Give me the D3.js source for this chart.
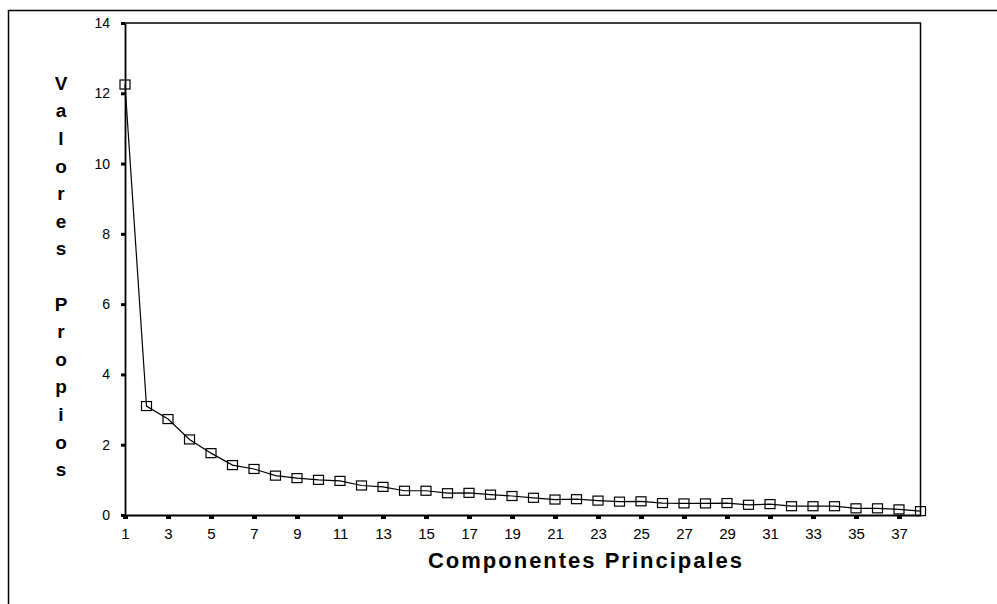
<!DOCTYPE html>
<html>
<head>
<meta charset="utf-8">
<script src="https://cdn.jsdelivr.net/npm/d3@7/dist/d3.min.js"></script>
<style>
  html, body { margin: 0; padding: 0; background: #fff; }
  svg { display: block; }
  text { font-family: "Liberation Sans", Arial, sans-serif; fill: #000; }
</style>
</head>
<body>
<svg id="chart" width="997" height="604"></svg>
<script>
// ---- data ----
const components = d3.range(1, 39); // 1..38
const eigenvalues = [12.25, 3.10, 2.73, 2.15, 1.76, 1.42, 1.31, 1.12, 1.05, 1.00,
                     0.97, 0.84, 0.80, 0.69, 0.69, 0.62, 0.63, 0.58, 0.54, 0.49,
                     0.44, 0.45, 0.41, 0.38, 0.39, 0.34, 0.33, 0.33, 0.34, 0.29,
                     0.31, 0.25, 0.25, 0.25, 0.19, 0.19, 0.16, 0.11];
const xTicks = [1, 3, 5, 7, 9, 11, 13, 15, 17, 19, 21, 23, 25, 27, 29, 31, 33, 35, 37];
const yTicks = [0, 2, 4, 6, 8, 10, 12, 14];
const xTitle = "Componentes Principales";
const yTitle = "Valores Propios";

(function () {
const svg = d3.select("#chart");

// outer frame (runs off the right and bottom edges)
svg.append("rect")
  .attr("x", 8.5).attr("y", 10.5)
  .attr("width", 1100).attr("height", 700)
  .attr("fill", "none").attr("stroke", "#000").attr("stroke-width", 1.5);

const pL = 125, pR = 920.5, pT = 23, pB = 515;
const x = d3.scaleLinear().domain([1, 38]).range([pL, pR]);
const y = d3.scaleLinear().domain([0, 14]).range([pB, pT]);

// plot box top & right
svg.append("path")
  .attr("d", `M${pL},${pT}H${pR}V${pB}`)
  .attr("fill", "none").attr("stroke", "#000").attr("stroke-width", 1.5);

// y axis
const yAxis = svg.append("g")
  .attr("transform", `translate(${pL},0)`)
  .call(d3.axisLeft(y).tickValues(yTicks).tickSizeInner(4).tickSizeOuter(0).tickPadding(11));
yAxis.select(".domain").attr("stroke-width", 1.8);
yAxis.selectAll(".tick line").attr("stroke-width", 3);
yAxis.selectAll(".tick text").attr("font-size", 14).attr("font-family", "Liberation Sans, Arial, sans-serif");

// x axis
const xAxis = svg.append("g")
  .attr("transform", `translate(0,${pB})`)
  .call(d3.axisBottom(x).tickValues(xTicks).tickFormat(d3.format("d")).tickSizeInner(4).tickSizeOuter(0).tickPadding(9));
xAxis.select(".domain").attr("stroke-width", 1.8);
xAxis.selectAll(".tick line").attr("stroke-width", 5);
xAxis.selectAll(".tick text").attr("font-size", 15).attr("font-family", "Liberation Sans, Arial, sans-serif");

// line
const line = d3.line().x((d, i) => x(components[i])).y(d => y(d));
svg.append("path")
  .datum(eigenvalues)
  .attr("d", line)
  .attr("fill", "none").attr("stroke", "#000").attr("stroke-width", 1.2);

// markers
const mw = 10, mh = 9;
svg.selectAll("rect.marker")
  .data(eigenvalues)
  .join("rect")
  .attr("class", "marker")
  .attr("x", (d, i) => x(components[i]) - mw / 2)
  .attr("y", d => y(d) - mh / 2)
  .attr("width", mw).attr("height", mh)
  .attr("fill", "none").attr("stroke", "#000").attr("stroke-width", 1.2);

// x title
svg.append("text")
  .attr("x", 585).attr("y", 568)
  .attr("text-anchor", "middle")
  .attr("font-size", 22).attr("font-weight", "bold")
  .attr("textLength", 314).attr("lengthAdjust", "spacing")
  .text(xTitle);

// y title: stacked letters
const letters = yTitle.split("");
const yStart = 83, yStep = 27.6;
svg.append("g").selectAll("text")
  .data(letters)
  .join("text")
  .attr("x", 61)
  .attr("y", (d, i) => yStart + i * yStep)
  .attr("dy", "0.36em")
  .attr("text-anchor", "middle")
  .attr("font-size", 19).attr("font-weight", "bold")
  .text(d => d);
})();
</script>
</body>
</html>
